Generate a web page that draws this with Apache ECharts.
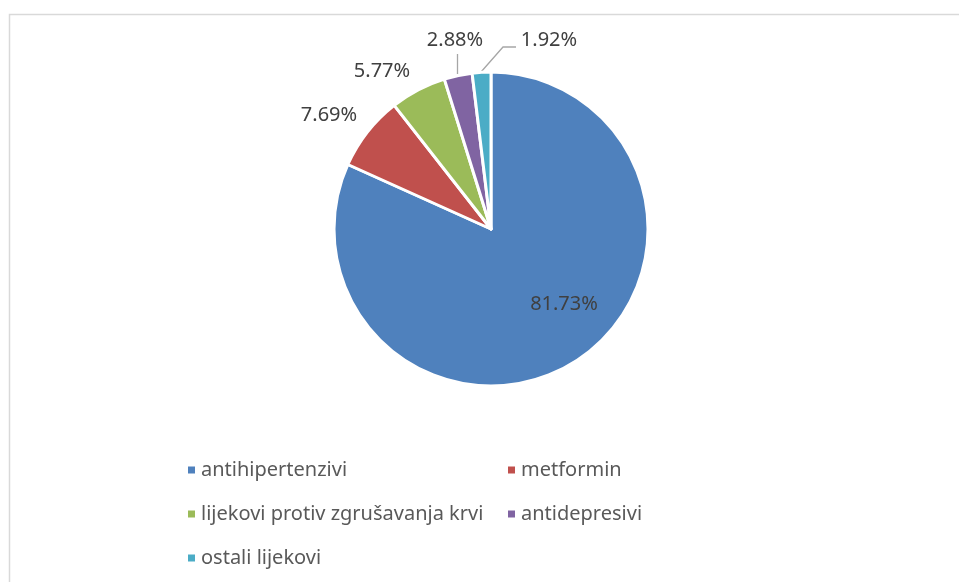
<!DOCTYPE html>
<html>
<head>
<meta charset="utf-8">
<script src="https://cdn.jsdelivr.net/npm/echarts@6/dist/echarts.min.js"></script>
<style>
  html, body { margin: 0; padding: 0; background: #fff; }
  #chart { width: 959px; height: 582px; }
</style>
</head>
<body>
<div id="chart"></div>
<script>
// data
var names = ['antihipertenzivi', 'metformin', 'lijekovi protiv zgrušavanja krvi', 'antidepresivi', 'ostali lijekovi'];
var values = [81.73, 7.69, 5.77, 2.88, 1.92];
var colors = ['#4F81BD', '#C0504D', '#9BBB59', '#8064A2', '#4BACC6'];

var legendLeft = [names[0], names[2], names[4]];
var legendRight = [names[1], names[3]];

// where each label sits (Excel puts them by hand, so do we)
var labelSpots = [
  { x: 564, y: 304 },
  { x: 329, y: 115 },
  { x: 382, y: 71 },
  { x: 455, y: 40 },
  { x: 549, y: 40 }
];
var linePts = {
  3: [[457.5, 74], [457.5, 54], [457.5, 54]],
  4: [[481, 72], [503, 47], [516, 47]]
};

var myChart = echarts.init(document.getElementById('chart'));

var pieData = names.map(function (n, i) {
  var item = { name: n, value: values[i], itemStyle: { color: colors[i] } };
  if (i === 0) item.label = { position: 'inside' };
  if (i === 1 || i === 2) item.labelLine = { show: false };
  return item;
});

var legendText = { fontFamily: 'Noto Sans', fontSize: 20, color: '#595959' };

myChart.setOption({
  animation: false,
  graphic: [{
    type: 'rect',
    shape: { x: 9.5, y: 14.5, width: 1000, height: 700 },
    style: { fill: 'none', stroke: '#d9d9d9', lineWidth: 1.5 },
    silent: true,
    z: -1
  }],
  legend: [{
    orient: 'vertical',
    left: 181,
    top: 455,
    itemWidth: 9,
    itemHeight: 9,
    itemGap: 24,
    icon: 'rect',
    data: legendLeft,
    textStyle: legendText
  }, {
    orient: 'vertical',
    left: 501,
    top: 455,
    itemWidth: 9,
    itemHeight: 9,
    itemGap: 24,
    icon: 'rect',
    data: legendRight,
    textStyle: legendText
  }],
  series: [{
    type: 'pie',
    center: [491, 229],
    radius: 157,
    startAngle: 90,
    clockwise: true,
    itemStyle: { borderColor: '#fff', borderWidth: 3 },
    label: {
      show: true,
      position: 'outside',
      fontFamily: 'Noto Sans',
      fontSize: 20,
      color: '#404040',
      formatter: function (p) { return p.value.toFixed(2) + '%'; }
    },
    labelLine: {
      show: true,
      lineStyle: { color: '#a6a6a6', width: 1.3 }
    },
    labelLayout: function (params) {
      var s = labelSpots[params.dataIndex];
      var out = { x: s.x, y: s.y, align: 'center', verticalAlign: 'middle' };
      if (linePts[params.dataIndex]) out.labelLinePoints = linePts[params.dataIndex];
      return out;
    },
    emphasis: { disabled: true },
    data: pieData
  }]
});
</script>
</body>
</html>
